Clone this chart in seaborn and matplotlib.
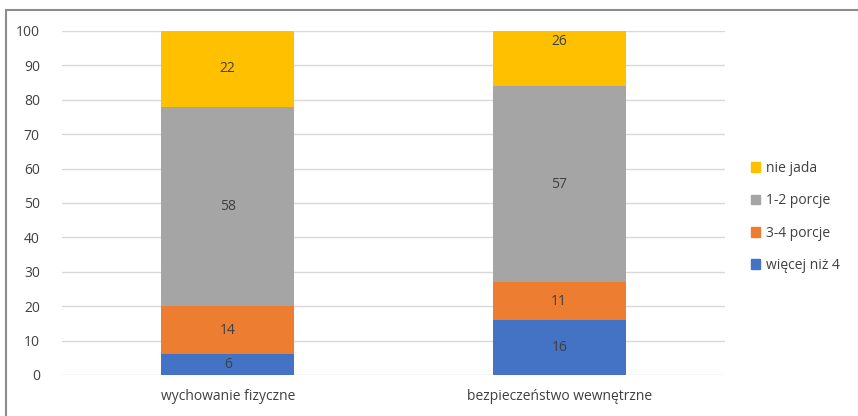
import pandas as pd
import numpy as np
import seaborn as sns
import matplotlib.pyplot as plt
from matplotlib.patches import Rectangle, Patch

sns.set_style("white")
plt.rcParams["font.family"] = ["Open Sans", "DejaVu Sans"]

categories = ["wychowanie fizyczne", "bezpieczeństwo wewnętrzne"]
series = ["więcej niż 4", "3-4 porcje", "1-2 porcje", "nie jada"]
wiecej_niz_4 = [6, 16]
porcje_3_4 = [14, 11]
porcje_1_2 = [58, 57]
nie_jada = [22, 26]
colors = ["#4472C4", "#ED7D31", "#A5A5A5", "#FFC000"]
y_ticks = list(range(0, 101, 10))

values = np.array([wiecej_niz_4, porcje_3_4, porcje_1_2, nie_jada])
cum = values.cumsum(axis=0)

fig = plt.figure(figsize=(8.58, 4.16), dpi=100)
ax = fig.add_axes([62 / 858, 1 - 375 / 416, 663 / 858, 344 / 416])

# draw cumulative layers from top to bottom so lower ones sit in front
for i in reversed(range(len(series))):
    df = pd.DataFrame({"kat": categories, "val": cum[i]})
    sns.barplot(data=df, x="kat", y="val", color=colors[i], width=0.4,
                saturation=1, ax=ax, order=categories, linewidth=0)

for i in range(len(series)):
    for j in range(len(categories)):
        mid = cum[i][j] - values[i][j] / 2
        ax.text(j, mid, str(values[i][j]), ha="center", va="center",
                fontsize=10, color="#404040")

ax.set_ylim(0, 100)
ax.set_xlim(-0.5, 1.5)
ax.set_yticks(y_ticks)
ax.yaxis.grid(True, color="#D9D9D9", linewidth=1)
ax.set_axisbelow(True)
ax.set_xlabel("")
ax.set_ylabel("")
for s in ax.spines.values():
    s.set_visible(False)
ax.tick_params(axis="both", length=0, labelsize=10, labelcolor="#404040")
ax.tick_params(axis="y", pad=16)
ax.tick_params(axis="x", pad=10)

handles = [Patch(color=colors[i], label=series[i]) for i in reversed(range(len(series)))]
fig.legend(handles=handles, loc="center left", bbox_to_anchor=(738 / 858, 1 - 217 / 416),
           frameon=False, fontsize=10, handlelength=0.7, handleheight=0.7,
           handletextpad=0.4, labelspacing=1.25, labelcolor="#404040")

fig.patches.append(Rectangle((6 / 858, -0.5), 2, 1 - 10 / 416 + 0.5,
                             transform=fig.transFigure, fill=False,
                             edgecolor="#8C8C8C", linewidth=1.5))

fig.savefig("out.png", dpi=100)
